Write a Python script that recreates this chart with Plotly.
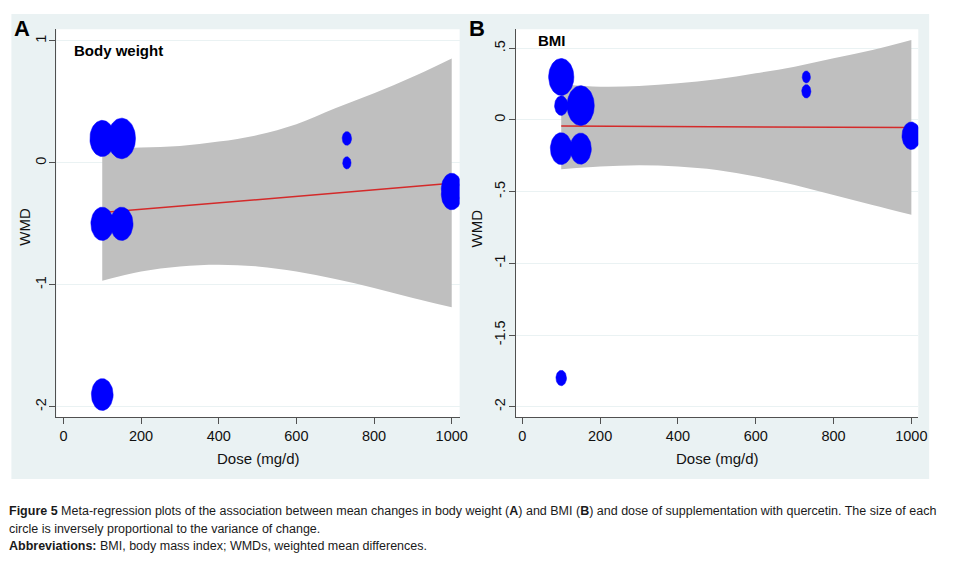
import numpy as np
import plotly.graph_objects as go

W, H = 957, 563

# ---------------- data ----------------
# Panel A: body weight
dose_A = [100, 150, 100, 150, 100, 730, 730, 1000, 1000]
wmd_A = [0.20, 0.20, -0.50, -0.50, -1.90, 0.20, 0.00, -0.21, -0.26]
weight_A = [25, 28, 23, 23, 22, 9.5, 8.5, 21, 21]

# Panel B: BMI
dose_B = [100, 100, 150, 100, 150, 1000, 730, 730, 100]
wmd_B = [0.30, 0.10, 0.10, -0.20, -0.20, -0.11, 0.30, 0.20, -1.80]
weight_B = [25.5, 13.5, 27.5, 22, 21.5, 19, 8.3, 9.3, 10.7]

# confidence bands and fitted lines
ci_dose = [100, 200, 300, 400, 500, 600, 700, 800, 900, 1000]
ci_upper_A = [0.119, 0.125, 0.138, 0.174, 0.228, 0.316, 0.447, 0.570, 0.705, 0.856]
ci_lower_A = [-0.966, -0.890, -0.849, -0.835, -0.849, -0.890, -0.953, -1.026, -1.108, -1.185]
ci_upper_B = [0.249, 0.232, 0.237, 0.256, 0.284, 0.326, 0.372, 0.430, 0.488, 0.558]
ci_lower_B = [-0.344, -0.325, -0.316, -0.325, -0.349, -0.395, -0.453, -0.523, -0.593, -0.662]
fit_dose = [100, 1000]
fit_A = [-0.408, -0.168]
fit_B = [-0.042, -0.053]

x_ticks = [0, 200, 400, 600, 800, 1000]
y_ticks_A = [-2, -1, 0, 1]
y_labels_A = ["-2", "-1", "0", "1"]
y_ticks_B = [-2, -1.5, -1, -0.5, 0, 0.5]
y_labels_B = ["-2", "-1.5", "-1", "-.5", "0", ".5"]

# ---------------- geometry (pixels in the 957x563 window) ----------------
PA = dict(x0=57, x1=464, y0=29.3, y1=417, xr=[-17.9, 1020.4], yr=[-2.084, 1.095])
PB = dict(x0=521, x1=927, y0=29.3, y1=417, xr=[-16.0, 1017.8], yr=[-2.072, 0.6325])

BG = "#EAF2F3"
BAND = "#BFBFBF"
RED = "#D42A2A"
BLUE = "#0000FF"
AX = "#505050"
FONT = "Liberation Sans, Arial, sans-serif"


def px_to_paper_x(px):
    return px / W


def px_to_paper_y(py):
    return 1 - py / H


def ellipses(xs, ys, ws, P, aspect=1.45):
    ppx = (P["x1"] - P["x0"]) / (P["xr"][1] - P["xr"][0])
    ppy = (P["y1"] - P["y0"]) / (P["yr"][1] - P["yr"][0])
    t = np.linspace(0, 2 * np.pi, 64)
    ex, ey = [], []
    for x, y, w in zip(xs, ys, ws):
        rx = (w / 2) / ppx
        ry = (w * aspect / 2) / ppy
        ex += list(x + rx * np.cos(t)) + [None]
        ey += list(y + ry * np.sin(t)) + [None]
    return ex, ey


fig = go.Figure()

for k, (P, up, lo, fit, dx, dy, wt) in enumerate([
    (PA, ci_upper_A, ci_lower_A, fit_A, dose_A, wmd_A, weight_A),
    (PB, ci_upper_B, ci_lower_B, fit_B, dose_B, wmd_B, weight_B),
]):
    xa = "x" if k == 0 else "x2"
    ya = "y" if k == 0 else "y2"
    fig.add_trace(go.Scatter(x=ci_dose, y=up, mode="lines", line=dict(width=0, color=BAND, shape="spline"),
                             xaxis=xa, yaxis=ya, showlegend=False, hoverinfo="skip"))
    fig.add_trace(go.Scatter(x=ci_dose, y=lo, mode="lines", line=dict(width=0, color=BAND, shape="spline"),
                             fill="tonexty", fillcolor=BAND, xaxis=xa, yaxis=ya, showlegend=False,
                             hoverinfo="skip"))
    fig.add_trace(go.Scatter(x=fit_dose, y=fit, mode="lines", line=dict(width=1.5, color=RED),
                             xaxis=xa, yaxis=ya, showlegend=False))
    ex, ey = ellipses(dx, dy, wt, P)
    fig.add_trace(go.Scatter(x=ex, y=ey, mode="lines", fill="toself", fillcolor=BLUE,
                             line=dict(width=0.5, color=BLUE), xaxis=xa, yaxis=ya, showlegend=False,
                             hoverinfo="skip"))

shapes = [dict(type="rect", xref="paper", yref="paper", layer="below",
               x0=px_to_paper_x(11.5), x1=px_to_paper_x(938), y0=px_to_paper_y(479), y1=px_to_paper_y(14),
               fillcolor=BG, line=dict(width=0))]
for P in (PA, PB):
    shapes.append(dict(type="rect", xref="paper", yref="paper", layer="below",
                       x0=px_to_paper_x(P["x0"]), x1=px_to_paper_x(P["x1"]),
                       y0=px_to_paper_y(P["y1"]), y1=px_to_paper_y(P["y0"]),
                       fillcolor="white", line=dict(width=0)))


def xaxis_cfg(P):
    return dict(domain=[px_to_paper_x(P["x0"]), px_to_paper_x(P["x1"])], range=P["xr"],
                tickvals=x_ticks, ticktext=[str(v) for v in x_ticks], showgrid=False, zeroline=False,
                showline=True, linecolor=AX, linewidth=1, ticks="outside", ticklen=6, tickcolor=AX,
                tickwidth=1, tickfont=dict(family=FONT, size=14.5, color="#111"), ticklabelstandoff=0,
                fixedrange=True)


def yaxis_cfg(P, vals, labels, anchor):
    return dict(domain=[px_to_paper_y(P["y1"]), px_to_paper_y(P["y0"])], range=P["yr"],
                tickvals=vals, ticktext=labels, showgrid=True, gridcolor=BG, gridwidth=1, zeroline=False,
                showline=True, linecolor=AX, linewidth=1, ticks="outside", ticklen=6, tickcolor=AX,
                tickwidth=1, tickangle=-90, tickfont=dict(family=FONT, size=14.5, color="#111"),
                ticklabelstandoff=-2, anchor=anchor, fixedrange=True)


ann = []


def add_text(text, px, py, size, bold=False, xanchor="center", yanchor="middle", angle=0,
             family=FONT, color="#111"):
    ann.append(dict(text=f"<b>{text}</b>" if bold else text, x=px_to_paper_x(px), y=px_to_paper_y(py),
                    xref="paper", yref="paper", showarrow=False, xanchor=xanchor, yanchor=yanchor,
                    textangle=angle, font=dict(family=family, size=size, color=color)))


# panel letters and titles
add_text("A", 22.5, 28, 22, bold=True, color="#000")
add_text("B", 482, 28, 22, bold=True, color="#000")
add_text("Body weight", 72.5, 50.5, 15, bold=True, xanchor="left", color="#000")
add_text("BMI", 541.5, 40.5, 15, bold=True, xanchor="left", color="#000")
# axis titles
add_text("WMD", 25, 227, 15, angle=-90)
add_text("WMD", 481, 228, 15, angle=-90)
add_text("Dose (mg/d)", (PA["x0"] + PA["x1"]) / 2, 458, 15)
add_text("Dose (mg/d)", (PB["x0"] + PB["x1"]) / 2, 458, 15)

# caption
CAP = "Liberation Sans Narrow, Arial Narrow, sans-serif"
add_text("<b>Figure 5</b> Meta-regression plots of the association between mean changes in body weight "
         "(<b>A</b>) and BMI (<b>B</b>) and dose of supplementation with quercetin. The size of each",
         7, 511, 12.5, xanchor="left", family=CAP, color="#1a1a1a")
add_text("circle is inversely proportional to the variance of change.", 7, 528.5, 12.5, xanchor="left",
         family=CAP, color="#1a1a1a")
add_text("<b>Abbreviations:</b> BMI, body mass index; WMDs, weighted mean differences.", 7, 546, 12.5,
         xanchor="left", family=CAP, color="#1a1a1a")

fig.update_layout(
    width=W, height=H, margin=dict(l=0, r=0, t=0, b=0, pad=0),
    paper_bgcolor="white", plot_bgcolor="rgba(0,0,0,0)",
    xaxis=xaxis_cfg(PA), yaxis=yaxis_cfg(PA, y_ticks_A, y_labels_A, "x"),
    xaxis2=dict(**xaxis_cfg(PB), anchor="y2"), yaxis2=yaxis_cfg(PB, y_ticks_B, y_labels_B, "x2"),
    shapes=shapes, annotations=ann, showlegend=False,
)
fig.update_layout(xaxis=dict(anchor="y"))

# remove the default page margin so the figure sits exactly in the 957x563 window
fig.write_html("out.html", config={"displayModeBar": False},
               post_script="document.body.style.margin='0';document.documentElement.style.overflow='hidden';")
